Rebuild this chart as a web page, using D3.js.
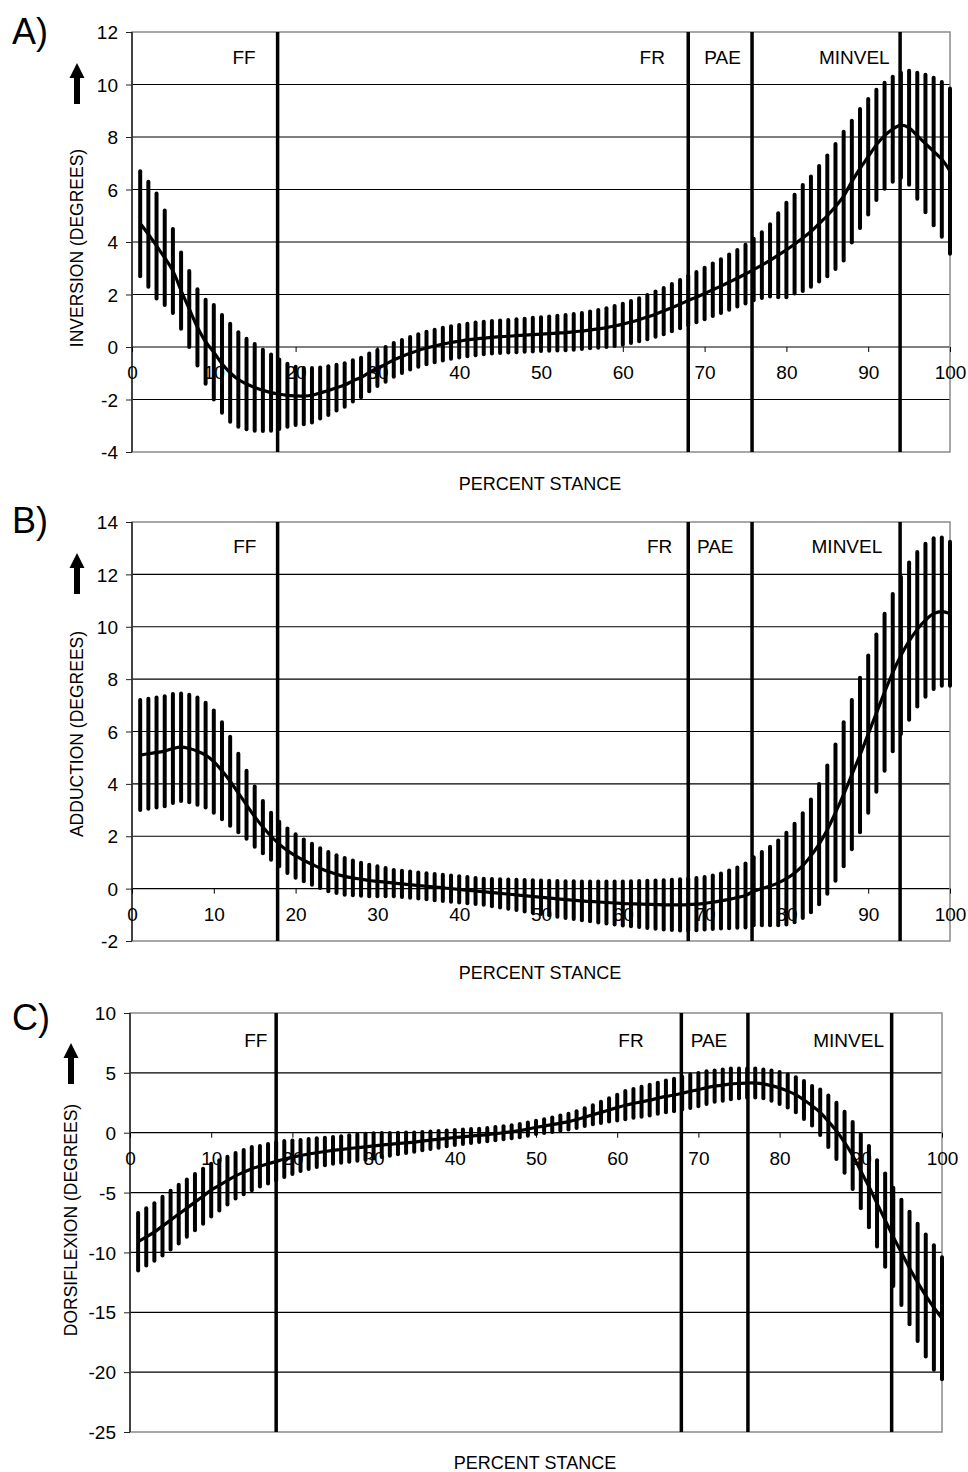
<!DOCTYPE html>
<html>
<head>
<meta charset="utf-8">
<script src="https://cdn.jsdelivr.net/npm/d3@7"></script>
<style>
  body { margin: 0; background: #fff; }
  text { font-family: "Liberation Sans", Arial, sans-serif; fill: #000; }
</style>
</head>
<body>
<svg id="fig" width="968" height="1472"></svg>
<script>
// percent stance, one bar per percent
var stance = d3.range(1, 101);
var xTicks = [0, 10, 20, 30, 40, 50, 60, 70, 80, 90, 100];
var phaseNames = ["FF", "FR", "PAE", "MINVEL"];

// A) inversion
var inversionTicks = [-4, -2, 0, 2, 4, 6, 8, 10, 12];
var inversionEvents = [17.8, 68.0, 75.8, 93.9];
var inversionLabelAt = [13.7, 63.6, 72.2, 88.3];
var inversionMean = [
  4.7, 4.3, 3.85, 3.4, 2.9, 2.15, 1.45, 0.75, 0.2, -0.2,
  -0.64, -0.98, -1.24, -1.41, -1.54, -1.65, -1.74, -1.8, -1.84, -1.86,
  -1.87, -1.84, -1.75, -1.66, -1.55, -1.45, -1.29, -1.16, -0.97, -0.8,
  -0.66, -0.49, -0.36, -0.24, -0.13, -0.04, 0.04, 0.11, 0.17, 0.22,
  0.27, 0.31, 0.34, 0.37, 0.39, 0.41, 0.43, 0.45, 0.47, 0.49,
  0.51, 0.53, 0.55, 0.58, 0.61, 0.65, 0.69, 0.74, 0.8, 0.87,
  0.95, 1.04, 1.14, 1.25, 1.37, 1.5, 1.63, 1.77, 1.9, 2.04,
  2.18, 2.32, 2.47, 2.62, 2.78, 2.95, 3.12, 3.3, 3.5, 3.7,
  3.92, 4.15, 4.4, 4.7, 5.0, 5.35, 5.75, 6.3, 6.8, 7.25,
  7.7, 8.05, 8.3, 8.45, 8.35, 8.05, 7.75, 7.45, 7.15, 6.7
];
var inversionSd = [
  2.0, 2.0, 2.0, 1.8, 1.6, 1.45, 1.45, 1.45, 1.6, 1.8,
  1.86, 1.87, 1.8, 1.72, 1.65, 1.55, 1.45, 1.32, 1.2, 1.11,
  1.07, 1.04, 0.97, 0.93, 0.87, 0.83, 0.79, 0.75, 0.72, 0.69,
  0.66, 0.64, 0.63, 0.62, 0.62, 0.62, 0.62, 0.62, 0.62, 0.62,
  0.62, 0.62, 0.62, 0.62, 0.62, 0.62, 0.63, 0.63, 0.64, 0.64,
  0.65, 0.66, 0.67, 0.68, 0.69, 0.7, 0.72, 0.74, 0.76, 0.78,
  0.8, 0.82, 0.84, 0.86, 0.88, 0.9, 0.92, 0.94, 0.96, 0.98,
  1.0, 1.02, 1.05, 1.08, 1.12, 1.17, 1.25, 1.38, 1.6, 1.8,
  1.88, 2.02, 2.1, 2.2, 2.3, 2.38, 2.45, 2.32, 2.27, 2.2,
  2.1, 2.02, 2.0, 2.0, 2.17, 2.4, 2.62, 2.81, 2.95, 3.15
];

// B) adduction
var adductionTicks = [-2, 0, 2, 4, 6, 8, 10, 12, 14];
var adductionEvents = [17.8, 68.0, 75.8, 93.9];
var adductionLabelAt = [13.8, 64.5, 71.3, 87.4];
var adductionMean = [
  5.1, 5.15, 5.2, 5.25, 5.35, 5.4, 5.35, 5.25, 5.1, 4.85,
  4.5, 4.1, 3.65, 3.2, 2.75, 2.35, 2.0, 1.7, 1.45, 1.25,
  1.08, 0.93, 0.78, 0.65, 0.55, 0.47, 0.41, 0.36, 0.31, 0.28,
  0.25, 0.21, 0.18, 0.15, 0.12, 0.09, 0.06, 0.03, 0.0, -0.03,
  -0.06, -0.09, -0.12, -0.15, -0.18, -0.21, -0.24, -0.27, -0.3, -0.33,
  -0.36, -0.39, -0.42, -0.44, -0.47, -0.49, -0.51, -0.53, -0.55, -0.57,
  -0.58, -0.59, -0.6, -0.61, -0.62, -0.62, -0.62, -0.61, -0.59, -0.56,
  -0.52, -0.47, -0.41, -0.34, -0.26, -0.1, 0.0, 0.1, 0.22, 0.38,
  0.6, 0.88, 1.25, 1.7, 2.25, 2.9, 3.6, 4.35, 5.1, 5.9,
  6.7, 7.5, 8.25, 8.9, 9.45, 9.9, 10.25, 10.5, 10.58, 10.5
];
var adductionSd = [
  2.1, 2.1, 2.1, 2.1, 2.08, 2.05, 2.05, 2.05, 2.0, 1.95,
  1.85, 1.7, 1.5, 1.3, 1.15, 1.0, 0.9, 0.85, 0.85, 0.83,
  0.8, 0.78, 0.76, 0.75, 0.72, 0.7, 0.66, 0.63, 0.6, 0.57,
  0.54, 0.5, 0.5, 0.5, 0.5, 0.5, 0.5, 0.5, 0.5, 0.5,
  0.5, 0.5, 0.5, 0.52, 0.54, 0.56, 0.58, 0.6, 0.62, 0.64,
  0.66, 0.68, 0.7, 0.72, 0.74, 0.76, 0.78, 0.8, 0.82, 0.84,
  0.86, 0.88, 0.9, 0.92, 0.94, 0.96, 0.98, 1.0, 1.0, 1.0,
  1.02, 1.05, 1.1, 1.15, 1.22, 1.3, 1.4, 1.5, 1.62, 1.75,
  1.88, 2.0, 2.15, 2.3, 2.45, 2.6, 2.75, 2.85, 2.95, 3.0,
  3.0, 3.0, 3.0, 3.0, 3.0, 2.95, 2.92, 2.88, 2.83, 2.75
];

// C) dorsiflexion
var dorsiTicks = [-25, -20, -15, -10, -5, 0, 5, 10];
var dorsiEvents = [18.0, 67.9, 76.1, 93.8];
var dorsiLabelAt = [15.5, 61.7, 71.3, 88.5];
var dorsiMean = [
  -9.1, -8.7, -8.3, -7.8, -7.3, -6.8, -6.3, -5.8, -5.3, -4.8,
  -4.4, -4.0, -3.6, -3.3, -3.0, -2.8, -2.6, -2.4, -2.2, -2.05,
  -1.9, -1.78, -1.67, -1.57, -1.48, -1.4, -1.32, -1.25, -1.18, -1.1,
  -1.03, -0.97, -0.9, -0.84, -0.78, -0.7, -0.62, -0.55, -0.47, -0.4,
  -0.34, -0.28, -0.22, -0.16, -0.08, 0.0, 0.08, 0.18, 0.3, 0.45,
  0.55, 0.67, 0.8, 0.93, 1.1, 1.3, 1.5, 1.7, 1.9, 2.1,
  2.3, 2.45, 2.58, 2.72, 2.88, 3.03, 3.15, 3.3, 3.46, 3.6,
  3.77, 3.89, 3.97, 4.08, 4.12, 4.15, 4.15, 4.08, 3.93, 3.74,
  3.48, 3.17, 2.73, 2.25, 1.7, 0.95, 0.15, -0.8, -1.9, -3.2,
  -4.5, -5.9, -7.3, -8.7, -10.0, -11.3, -12.5, -13.6, -14.6, -15.5
];
var dorsiSd = [
  2.4, 2.4, 2.4, 2.45, 2.45, 2.45, 2.4, 2.35, 2.3, 2.2,
  2.1, 2.0, 1.9, 1.85, 1.8, 1.7, 1.65, 1.6, 1.5, 1.4,
  1.3, 1.25, 1.2, 1.15, 1.12, 1.1, 1.1, 1.1, 1.1, 1.05,
  1.0, 0.95, 0.9, 0.85, 0.8, 0.77, 0.73, 0.7, 0.66, 0.63,
  0.6, 0.58, 0.56, 0.55, 0.55, 0.55, 0.55, 0.55, 0.55, 0.55,
  0.57, 0.6, 0.63, 0.66, 0.7, 0.74, 0.8, 0.88, 0.97, 1.08,
  1.18, 1.2, 1.25, 1.28, 1.3, 1.33, 1.35, 1.37, 1.4, 1.38,
  1.37, 1.31, 1.3, 1.28, 1.24, 1.22, 1.21, 1.2, 1.27, 1.34,
  1.38, 1.47, 1.58, 1.65, 1.9, 2.15, 2.35, 2.55, 2.8, 3.1,
  3.4, 3.6, 3.9, 4.1, 4.4, 4.7, 4.9, 5.1, 5.2, 5.1
];

var svg = d3.select("#fig");

var panels = [
  { letter: "A)", title: "INVERSION (DEGREES)", mean: inversionMean, sd: inversionSd,
    ticks: inversionTicks, events: inversionEvents, labelAt: inversionLabelAt,
    left: 132, right: 950, top: 32, bottom: 452,
    letterY: 44, titleX: 77, titleY: 248, arrowTop: 63, labelY: 64, xTitleY: 490 },
  { letter: "B)", title: "ADDUCTION (DEGREES)", mean: adductionMean, sd: adductionSd,
    ticks: adductionTicks, events: adductionEvents, labelAt: adductionLabelAt,
    left: 132, right: 950, top: 522, bottom: 941,
    letterY: 533, titleX: 77, titleY: 734, arrowTop: 553, labelY: 553, xTitleY: 979 },
  { letter: "C)", title: "DORSIFLEXION (DEGREES)", mean: dorsiMean, sd: dorsiSd,
    ticks: dorsiTicks, events: dorsiEvents, labelAt: dorsiLabelAt,
    left: 130, right: 942, top: 1013, bottom: 1432,
    letterY: 1030, titleX: 71, titleY: 1220, arrowTop: 1043, labelY: 1047, xTitleY: 1469 }
];

// plain hyphen minus, like the original
var plain = function (d) { return String(d); };

panels.forEach(function (p) {
  var x = d3.scaleLinear().domain([0, 100]).range([p.left, p.right]);
  var y = d3.scaleLinear().domain(d3.extent(p.ticks)).range([p.bottom, p.top]);
  var g = svg.append("g");

  // horizontal grid
  g.selectAll(".grid")
    .data(p.ticks.slice(1, -1))
    .enter().append("line")
    .attr("x1", p.left).attr("x2", p.right)
    .attr("y1", function (d) { return y(d); })
    .attr("y2", function (d) { return y(d); })
    .attr("stroke", "#000").attr("stroke-width", 1.2);

  // frame
  g.append("rect")
    .attr("x", p.left).attr("y", p.top)
    .attr("width", p.right - p.left).attr("height", p.bottom - p.top)
    .attr("fill", "none").attr("stroke", "#8a8a8a").attr("stroke-width", 1.5);
  g.append("line")
    .attr("x1", p.left).attr("x2", p.left)
    .attr("y1", p.top).attr("y2", p.bottom)
    .attr("stroke", "#222").attr("stroke-width", 1.5);

  // y axis ticks + labels
  var yAxis = d3.axisLeft(y).tickValues(p.ticks).tickFormat(plain).tickSize(6).tickPadding(8);
  var ya = g.append("g").attr("transform", "translate(" + p.left + ",0)").call(yAxis);
  ya.select(".domain").remove();
  ya.selectAll("line").attr("stroke", "#222");
  ya.selectAll("text").style("font-size", "19px").attr("dy", "0.35em");

  // x axis sits on the zero line
  var xAxis = d3.axisBottom(x).tickValues(xTicks).tickFormat(plain).tickSize(5).tickPadding(14);
  var xa = g.append("g").attr("transform", "translate(0," + y(0) + ")").call(xAxis);
  xa.select(".domain").remove();
  xa.selectAll("line").attr("stroke", "#000");
  xa.selectAll("text").style("font-size", "19px");

  // error bars (mean +/- sd)
  g.selectAll(".bar")
    .data(stance)
    .enter().append("line")
    .attr("x1", function (d) { return x(d); })
    .attr("x2", function (d) { return x(d); })
    .attr("y1", function (d, i) { return y(p.mean[i] + p.sd[i]); })
    .attr("y2", function (d, i) { return y(p.mean[i] - p.sd[i]); })
    .attr("stroke", "#000").attr("stroke-width", 4).attr("stroke-linecap", "round");

  // mean curve
  var line = d3.line()
    .x(function (d) { return x(d); })
    .y(function (d, i) { return y(p.mean[i]); })
    .curve(d3.curveCatmullRom);
  g.append("path")
    .attr("d", line(stance))
    .attr("fill", "none").attr("stroke", "#000").attr("stroke-width", 3.2);

  // gait event lines
  g.selectAll(".event")
    .data(p.events)
    .enter().append("line")
    .attr("x1", function (d) { return x(d); })
    .attr("x2", function (d) { return x(d); })
    .attr("y1", p.top).attr("y2", p.bottom)
    .attr("stroke", "#000").attr("stroke-width", 3.5);

  // phase labels
  g.selectAll(".phase")
    .data(phaseNames)
    .enter().append("text")
    .attr("x", function (d, i) { return x(p.labelAt[i]); })
    .attr("y", p.labelY)
    .attr("text-anchor", "middle")
    .style("font-size", "19px")
    .text(function (d) { return d; });

  // panel letter
  g.append("text")
    .attr("x", 12).attr("y", p.letterY)
    .style("font-size", "36px")
    .text(p.letter);

  // y title with arrow
  g.append("text")
    .attr("transform", "translate(" + (p.titleX + 6) + "," + p.titleY + ") rotate(-90)")
    .attr("text-anchor", "middle")
    .style("font-size", "17.5px")
    .text(p.title);
  var ax = p.titleX;
  g.append("path")
    .attr("d", "M" + ax + "," + p.arrowTop + " L" + (ax + 7.5) + "," + (p.arrowTop + 15) +
      " L" + (ax + 3) + "," + (p.arrowTop + 15) + " L" + (ax + 3) + "," + (p.arrowTop + 41) +
      " L" + (ax - 3) + "," + (p.arrowTop + 41) + " L" + (ax - 3) + "," + (p.arrowTop + 15) +
      " L" + (ax - 7.5) + "," + (p.arrowTop + 15) + " Z")
    .attr("fill", "#000");

  // x title
  g.append("text")
    .attr("x", (p.left + p.right) / 2 - 1).attr("y", p.xTitleY)
    .attr("text-anchor", "middle")
    .style("font-size", "18px")
    .text("PERCENT STANCE");
});
</script>
</body>
</html>
